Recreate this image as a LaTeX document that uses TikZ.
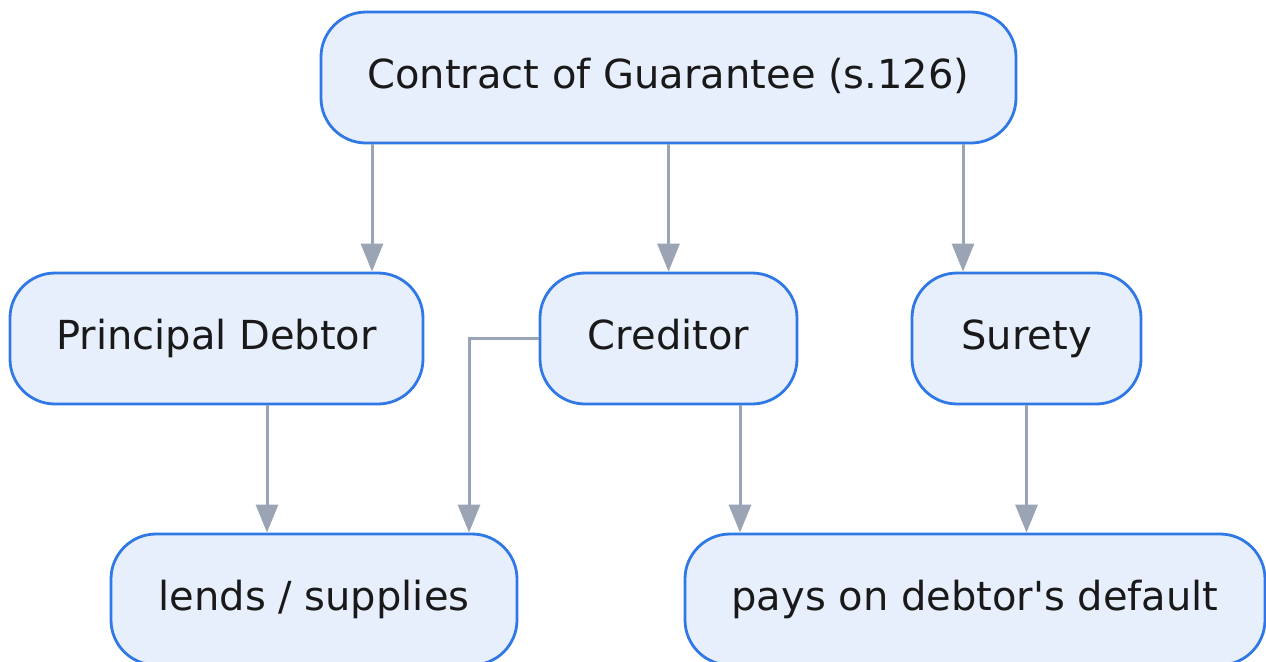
\documentclass[tikz,border=0pt]{standalone}
\usepackage{fontspec}
\setmainfont{DejaVu Sans}
\usetikzlibrary{arrows.meta,calc}
\definecolor{boxfill}{HTML}{E7EEFC}
\definecolor{boxline}{HTML}{2F78E6}
\definecolor{linkgray}{HTML}{9BA4B4}
\tikzset{
  box/.style={rectangle, rounded corners=22.5pt, draw=boxline, line width=1.4pt,
    fill=boxfill, minimum height=65.5pt, inner sep=0pt,
    text height=14pt, text depth=3.5pt,
    font=\fontsize{20}{24}\selectfont, text=black!90},
  link/.style={draw=linkgray, line width=1.5pt,
    -{Triangle[length=14pt,width=11pt]}},
}
\begin{document}
\begin{tikzpicture}[x=0.5pt,y=-0.5pt]
  \useasboundingbox (0,0) rectangle (1266,661);
  \clip (0,0) rectangle (1266,661);

  % boxes
  \node[box, minimum width=347.5pt] (top) at (668.5,77.5) {Contract of Guarantee (s.126)};
  \node[box, minimum width=206.5pt] (debtor) at (216.5,338.5) {Principal Debtor};
  \node[box, minimum width=128.5pt] (creditor) at (668.5,338.5) {Creditor};
  \node[box, minimum width=114.5pt] (surety) at (1026.5,338.5) {Surety};
  \node[box, minimum width=203pt] (lends) at (314,599.5) {lends / supplies};
  \node[box, minimum width=290pt] (pays) at (975,599.5) {pays on debtor\textquotesingle s default};

  % connectors
  \coordinate (t1) at ($(top.south)+(-296.5,0)$);
  \coordinate (t3) at ($(top.south)+(294.5,0)$);
  \draw[link] (t1) -- (t1 |- debtor.north);
  \draw[link] (top.south) -- (creditor.north);
  \draw[link] (t3) -- (t3 |- surety.north);

  \coordinate (d1) at ($(debtor.south)+(50.5,0)$);
  \draw[link] (d1) -- (d1 |- lends.north);

  \coordinate (l1) at ($(lends.north)+(155,0)$);
  \draw[link] (creditor.west) -| (l1);

  \coordinate (c1) at ($(creditor.south)+(71.5,0)$);
  \draw[link] (c1) -- (c1 |- pays.north);

  \draw[link] (surety.south) -- (surety.south |- pays.north);
\end{tikzpicture}
\end{document}
